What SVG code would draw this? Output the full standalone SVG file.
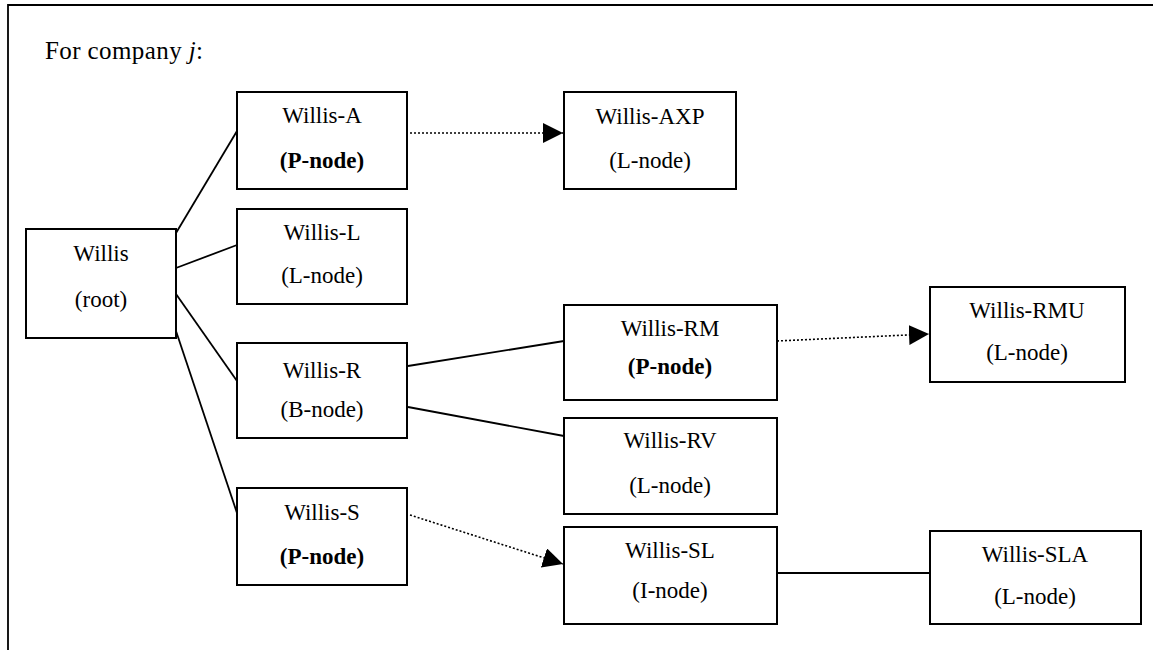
<svg xmlns="http://www.w3.org/2000/svg" width="1153" height="650" viewBox="0 0 1153 650">
<style>
.box{fill:#fff;stroke:#000;stroke-width:2}
.t{font-family:"Liberation Serif","Times New Roman",serif;font-size:23px;fill:#000;text-anchor:middle}
.b{font-weight:bold}
.ln{stroke:#000;stroke-width:1.8;fill:none}
.dot{stroke:#000;stroke-width:1.6;fill:none;stroke-dasharray:2 2}
</style>
<defs>
<marker id="arr" markerUnits="userSpaceOnUse" markerWidth="22" markerHeight="22" refX="20" refY="10" orient="auto">
<path d="M0,0 L20,10 L0,20 Z" fill="#000"/>
</marker>
</defs>
<rect width="1153" height="650" fill="#fff"/>
<g id="frame">
<path d="M8,650 L8,5 L1153,5" class="ln" stroke-width="2.2"/>
<text x="45" y="59" class="t" style="text-anchor:start;font-size:25px" textLength="158" lengthAdjust="spacing">For company <tspan font-style="italic">j</tspan>:</text>
</g>
<g id="connectors">
<line class="ln" x1="176" y1="233" x2="237" y2="131"/>
<line class="ln" x1="176" y1="268" x2="237" y2="245"/>
<line class="ln" x1="176" y1="294" x2="237" y2="381"/>
<line class="ln" x1="176" y1="331" x2="237" y2="513"/>
<line class="ln" x1="408" y1="366" x2="564" y2="341"/>
<line class="ln" x1="408" y1="407" x2="564" y2="436"/>
<line class="ln" x1="776" y1="573" x2="930" y2="573"/>
<line class="dot" x1="410" y1="133" x2="563" y2="133" marker-end="url(#arr)"/>
<line class="dot" x1="777" y1="341" x2="929" y2="334" marker-end="url(#arr)"/>
<line class="dot" x1="410" y1="515" x2="563" y2="564" marker-end="url(#arr)"/>
</g>
<g id="willis">
<rect class="box" x="26" y="229" width="150" height="109"/>
<text class="t" x="101" y="261">Willis</text>
<text class="t" x="101" y="307">(root)</text>
</g>
<g id="willis-a">
<rect class="box" x="237" y="92" width="170" height="97"/>
<text class="t" x="322" y="123">Willis-A</text>
<text class="t b" x="322" y="168">(P-node)</text>
</g>
<g id="willis-l">
<rect class="box" x="237" y="209" width="170" height="95"/>
<text class="t" x="322" y="240">Willis-L</text>
<text class="t" x="322" y="283">(L-node)</text>
</g>
<g id="willis-r">
<rect class="box" x="237" y="343" width="170" height="95"/>
<text class="t" x="322" y="378">Willis-R</text>
<text class="t" x="322" y="417">(B-node)</text>
</g>
<g id="willis-s">
<rect class="box" x="237" y="488" width="170" height="97"/>
<text class="t" x="322" y="520">Willis-S</text>
<text class="t b" x="322" y="564">(P-node)</text>
</g>
<g id="willis-axp">
<rect class="box" x="564" y="92" width="172" height="97"/>
<text class="t" x="650" y="124">Willis-AXP</text>
<text class="t" x="650" y="168">(L-node)</text>
</g>
<g id="willis-rm">
<rect class="box" x="564" y="305" width="213" height="95"/>
<text class="t" x="670" y="336">Willis-RM</text>
<text class="t b" x="670" y="374">(P-node)</text>
</g>
<g id="willis-rv">
<rect class="box" x="564" y="418" width="213" height="96"/>
<text class="t" x="670" y="448">Willis-RV</text>
<text class="t" x="670" y="493">(L-node)</text>
</g>
<g id="willis-sl">
<rect class="box" x="564" y="527" width="213" height="97"/>
<text class="t" x="670" y="558">Willis-SL</text>
<text class="t" x="670" y="598">(I-node)</text>
</g>
<g id="willis-rmu">
<rect class="box" x="930" y="287" width="195" height="95"/>
<text class="t" x="1027" y="318">Willis-RMU</text>
<text class="t" x="1027" y="360">(L-node)</text>
</g>
<g id="willis-sla">
<rect class="box" x="930" y="531" width="211" height="93"/>
<text class="t" x="1035" y="562">Willis-SLA</text>
<text class="t" x="1035" y="604">(L-node)</text>
</g>
</svg>
